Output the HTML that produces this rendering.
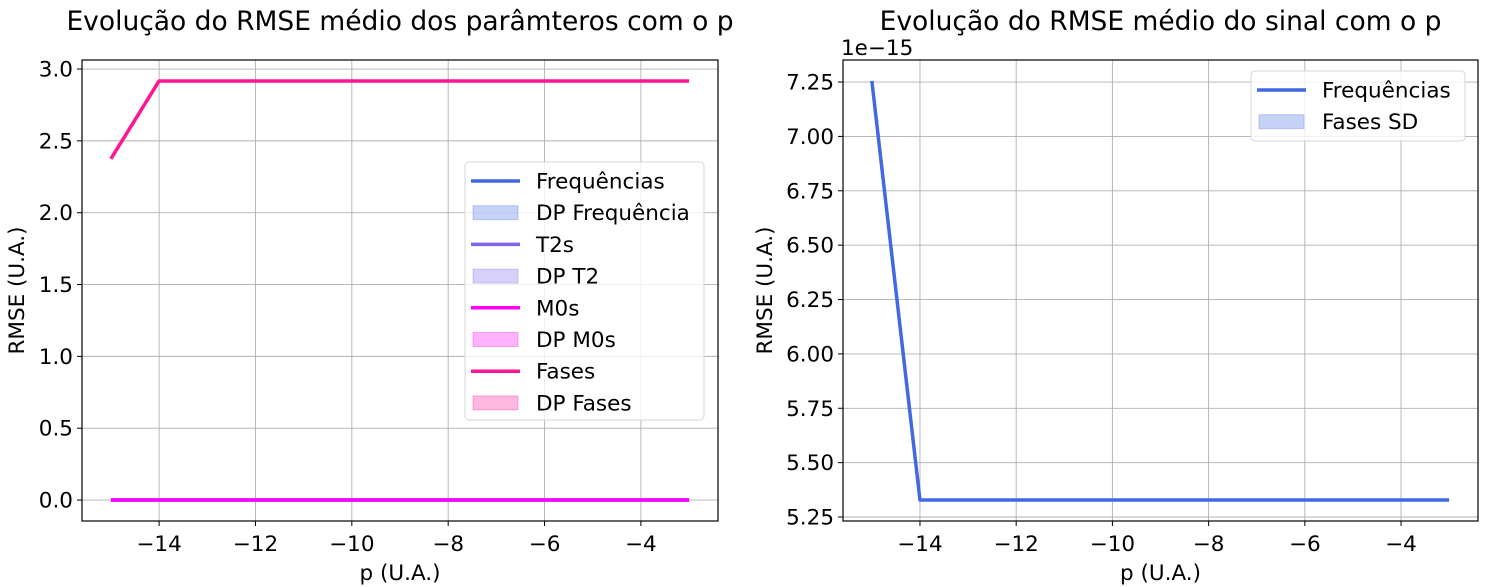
<!DOCTYPE html>
<html><head><meta charset="utf-8"><style>
html,body{margin:0;padding:0;background:#fff;}
svg{display:block;font-family:"DejaVu Sans","Liberation Sans",sans-serif;}
</style></head><body>
<svg id="fig" width="1485" height="587" viewBox="0 0 1485 587" xmlns="http://www.w3.org/2000/svg"></svg>
<script>
const pValues = [-15,-14,-13,-12,-11,-10,-9,-8,-7,-6,-5,-4,-3];
const fasesRMSE = [2.375,2.917,2.917,2.917,2.917,2.917,2.917,2.917,2.917,2.917,2.917,2.917,2.917];
const freqRMSE = [0,0,0,0,0,0,0,0,0,0,0,0,0];
const t2RMSE = [0,0,0,0,0,0,0,0,0,0,0,0,0];
const m0RMSE = [0,0,0,0,0,0,0,0,0,0,0,0,0];
const sinalRMSE = [7.255,5.328,5.328,5.328,5.328,5.328,5.328,5.328,5.328,5.328,5.328,5.328,5.328];
const xTicks = [-14,-12,-10,-8,-6,-4];
const yTicksLeft = [0,0.5,1,1.5,2,2.5,3];
const yTickLabelsLeft = ["0.0","0.5","1.0","1.5","2.0","2.5","3.0"];
const yTicksRight = [5.25,5.5,5.75,6,6.25,6.5,6.75,7,7.25];
const yTickLabelsRight = ["5.25","5.50","5.75","6.00","6.25","6.50","6.75","7.00","7.25"];

const NS="http://www.w3.org/2000/svg";
const svg=document.getElementById('fig');
const FS=21.5;
function mk(tag,attrs,parent,text){const e=document.createElementNS(NS,tag);for(const k in attrs)e.setAttribute(k,attrs[k]);if(text!==undefined)e.textContent=text;(parent||svg).appendChild(e);return e;}

function range(arrs){let lo=Infinity,hi=-Infinity;arrs.forEach(a=>a.forEach(v=>{lo=Math.min(lo,v);hi=Math.max(hi,v);}));const m=(hi-lo)*0.05;return [lo-m,hi+m];}

function panel(name,L,T,R,B,series,yT,yTL,title,legend,legendBox,offsetText,ylabX){
  const g=mk('g',{},svg);
  
  
  const [x0,x1]=range([pValues]);
  const [y0,y1]=range(series.map(s=>s.data));
  const X=v=>L+(v-x0)/(x1-x0)*(R-L);
  const Y=v=>B-(v-y0)/(y1-y0)*(B-T);
  const grid=mk('g',{},g);
  
  
  xTicks.forEach(t=>{
    mk('line',{x1:X(t),x2:X(t),y1:T,y2:B,stroke:'#b0b0b0','stroke-width':0.9},grid);
    mk('line',{x1:X(t),x2:X(t),y1:B,y2:B+5,stroke:'#000','stroke-width':1},g);
    const tx=mk('text',{x:X(t),y:B+30,'font-size':FS,'text-anchor':'middle',fill:'#000'},g,'\u2212'+Math.abs(t));
    
    
  });
  yT.forEach((t,i)=>{
    mk('line',{x1:L,x2:R,y1:Y(t),y2:Y(t),stroke:'#b0b0b0','stroke-width':0.9},grid);
    mk('line',{x1:L-5,x2:L,y1:Y(t),y2:Y(t),stroke:'#000','stroke-width':1},g);
    const tx=mk('text',{x:L-9,y:Y(t)+7.5,'font-size':FS,'text-anchor':'end',fill:'#000'},g,yTL[i]);
    
    
  });
  series.forEach(s=>{
    const pts=pValues.map((p,i)=>X(p)+','+Y(s.data[i])).join(' ');
    const pl=mk('polyline',{points:pts,fill:'none',stroke:s.color,'stroke-width':3.5,'stroke-linejoin':'round'},g);
    
    
  });
  const fr=mk('rect',{x:L,y:T,width:R-L,height:B-T,fill:'none',stroke:'#000','stroke-width':1.2},g);
  
  
  const ti=mk('text',{x:(L+R)/2,y:T-30,'font-size':26.5,'text-anchor':'middle',fill:'#000'},g,title);
  
  
  const xl=mk('text',{x:(L+R)/2,y:B+59,'font-size':FS,'text-anchor':'middle',fill:'#000'},g,'p (U.A.)');
  
  
  const yl=mk('text',{x:0,y:0,'font-size':FS,'text-anchor':'middle',fill:'#000',transform:`translate(${ylabX},${(T+B)/2}) rotate(-90)`},g,'RMSE (U.A.)');
  
  
  if(offsetText){
    const ot=mk('text',{x:L-2,y:T-5,'font-size':FS,fill:'#000'},g,offsetText);
    
    
  }
  const lg=mk('g',{},g);
  
  
  const [bx,by,bw,bh]=legendBox;
  mk('rect',{x:bx,y:by,width:bw,height:bh,rx:4,fill:'#fff','fill-opacity':0.8,stroke:'#d6d6d6','stroke-width':1},lg);
  legend.forEach((e,i)=>{
    const cy=by+19+i*31.7;
    const eg=mk('g',{},lg);
    
    
    if(e.type==='line') mk('line',{x1:bx+6,x2:bx+55,y1:cy,y2:cy,stroke:e.color,'stroke-width':3.5},eg);
    else mk('rect',{x:bx+8,y:cy-7,width:45,height:14,fill:e.color,'fill-opacity':0.3,stroke:e.color,'stroke-opacity':0.3,'stroke-width':1},eg);
    mk('text',{x:bx+71,y:cy+7.5,'font-size':FS,fill:'#000'},eg,e.label);
  });
}

panel('left-chart',82,60,718,521,
  [{name:'freq-line',data:freqRMSE,color:'#4169e1'},{name:'t2-line',data:t2RMSE,color:'#7b68ee'},{name:'m0-line',data:m0RMSE,color:'#ff00ff'},{name:'fases-line',data:fasesRMSE,color:'#ff1493'}],
  yTicksLeft,yTickLabelsLeft,'Evolução do RMSE médio dos parâmteros com o p',
  [{type:'line',color:'#4169e1',label:'Frequências'},{type:'patch',color:'#4169e1',label:'DP Frequência'},
   {type:'line',color:'#7b68ee',label:'T2s'},{type:'patch',color:'#7b68ee',label:'DP T2'},
   {type:'line',color:'#ff00ff',label:'M0s'},{type:'patch',color:'#ff00ff',label:'DP M0s'},
   {type:'line',color:'#ff1493',label:'Fases'},{type:'patch',color:'#ff1493',label:'DP Fases'}],
  [465,162,239,258],null,24);

panel('right-chart',843,60,1478,521,
  [{name:'signal-rmse-line',data:sinalRMSE,color:'#4169e1'}],
  yTicksRight,yTickLabelsRight,'Evolução do RMSE médio do sinal com o p',
  [{type:'line',color:'#4169e1',label:'Frequências'},{type:'patch',color:'#4169e1',label:'Fases SD'}],
  [1251,71,214,70],'1e\u221215',772);
</script>
</body></html>
